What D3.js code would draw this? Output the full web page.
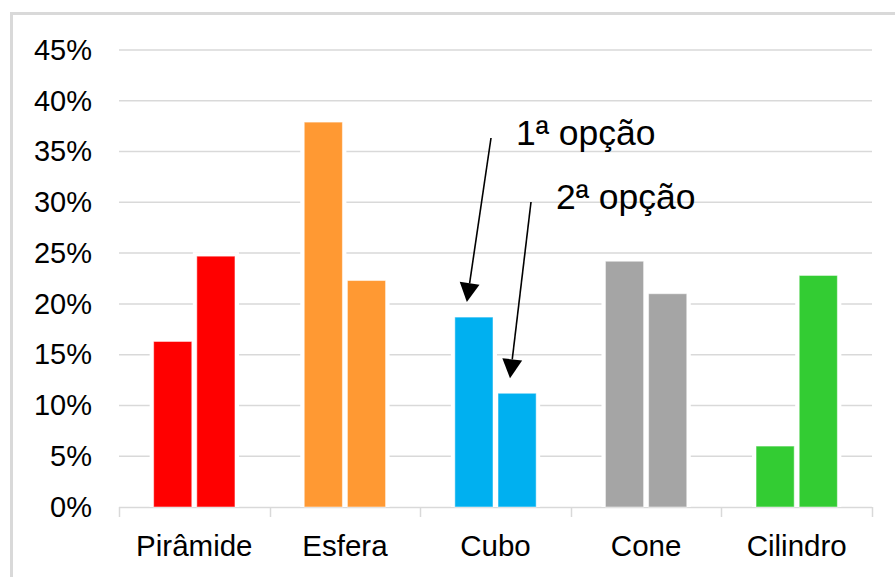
<!DOCTYPE html>
<html>
<head>
<meta charset="utf-8">
<script src="https://cdn.jsdelivr.net/npm/d3@7/dist/d3.min.js"></script>
<style>
  html, body { margin: 0; padding: 0; background: #fff; }
  svg { display: block; font-family: "Liberation Sans", Arial, sans-serif; }
</style>
</head>
<body>
<svg id="chart" width="895" height="577"></svg>
<script>
// Solids and their share of first / second choices
const categories = ["Pirâmide", "Esfera", "Cubo", "Cone", "Cilindro"];
const options = ["1ª opção", "2ª opção"];
const firstChoice = [16.3, 37.9, 18.7, 24.2, 6.0];
const secondChoice = [24.7, 22.3, 11.2, 21.0, 22.8];
const colors = ["#ff0000", "#ff9933", "#00b0f0", "#a5a5a5", "#33cc33"];
const yTicks = [0, 5, 10, 15, 20, 25, 30, 35, 40, 45];

// The two callouts point at the Cubo bars
const callouts = [
  { text: options[0], category: "Cubo", series: 0, lx: 516, ly: 145 },
  { text: options[1], category: "Cubo", series: 1, lx: 556, ly: 209 }
];

const svg = d3.select("#chart");
const W = 895, H = 577;
const plot = { left: 119, right: 872, top: 50, bottom: 507 };

const series = [firstChoice, secondChoice];
const data = categories.map((c, i) => ({
  category: c,
  color: colors[i],
  values: series.map((s, k) => ({ k, v: s[i] }))
}));

const x0 = d3.scaleBand().domain(categories).range([plot.left, plot.right]).padding(0);
const groupW = x0.bandwidth() * 0.54;
const x1 = d3.scaleBand().domain([0, 1]).range([0, groupW]).paddingInner(0.116).paddingOuter(0);
const y = d3.scaleLinear().domain([0, 45]).range([plot.bottom, plot.top]);
const groupX = c => x0(c) + (x0.bandwidth() - groupW) / 2;

// Chart frame
svg.append("path")
  .attr("d", `M11.5,${H} L11.5,13.5 L${W},13.5`)
  .attr("fill", "none")
  .attr("stroke", "#d9d9d9")
  .attr("stroke-width", 3);

// Horizontal gridlines
svg.append("g")
  .selectAll("line")
  .data(yTicks.filter(t => t > 0))
  .join("line")
  .attr("x1", plot.left).attr("x2", plot.right)
  .attr("y1", d => y(d)).attr("y2", d => y(d))
  .attr("stroke", "#d9d9d9")
  .attr("stroke-width", 1.5);

// Y axis labels
const yAxis = d3.axisLeft(y).tickValues(yTicks).tickFormat(d => d + "%").tickSize(0).tickPadding(27);
const gy = svg.append("g").attr("transform", `translate(${plot.left},0)`).call(yAxis);
gy.select(".domain").remove();
gy.selectAll("text")
  .attr("font-size", 29)
  .attr("font-family", "Liberation Sans, Arial, sans-serif")
  .attr("fill", "#000");

// X axis with boundary ticks
const xAxis = d3.axisBottom(x0).tickSize(0).tickPadding(0);
const gx = svg.append("g").attr("transform", `translate(0,${plot.bottom})`).call(xAxis);
gx.select(".domain").remove();
gx.selectAll("text")
  .attr("font-size", 29.5)
  .attr("font-family", "Liberation Sans, Arial, sans-serif")
  .attr("fill", "#000")
  .attr("dy", null)
  .attr("y", 49);

const axisG = svg.append("g").attr("stroke", "#d9d9d9").attr("stroke-width", 1.5);
axisG.append("line")
  .attr("x1", plot.left).attr("x2", plot.right)
  .attr("y1", plot.bottom + 0.5).attr("y2", plot.bottom + 0.5);
const bounds = categories.map(c => x0(c)).concat([x0(categories[categories.length - 1]) + x0.bandwidth()]);
axisG.selectAll("line.tick")
  .data(bounds)
  .join("line")
  .attr("class", "tick")
  .attr("x1", d => Math.round(d) + 0.5).attr("x2", d => Math.round(d) + 0.5)
  .attr("y1", plot.bottom).attr("y2", plot.bottom + 10);

// Bars, each with a white halo that breaks the gridlines
const groups = svg.append("g")
  .selectAll("g")
  .data(data)
  .join("g")
  .attr("transform", d => `translate(${groupX(d.category)},0)`);

groups.selectAll("rect.halo")
  .data(d => d.values)
  .join("rect")
  .attr("class", "halo")
  .attr("x", d => x1(d.k) - 4)
  .attr("y", d => y(d.v) - 4)
  .attr("width", x1.bandwidth() + 8)
  .attr("height", d => plot.bottom - y(d.v) + 4)
  .attr("fill", "#fff");

groups.selectAll("rect.bar")
  .data(d => d.values.map(v => ({ ...v, color: d.color })))
  .join("rect")
  .attr("class", "bar")
  .attr("x", d => x1(d.k))
  .attr("y", d => y(d.v))
  .attr("width", x1.bandwidth())
  .attr("height", d => plot.bottom - y(d.v))
  .attr("fill", d => d.color)
  .attr("stroke", "rgba(255,255,255,0.5)")
  .attr("stroke-width", 1);

// Callout text and arrows
const ann = svg.append("g");
callouts.forEach(c => {
  const i = categories.indexOf(c.category);
  const v = series[c.series][i];
  const tipX = groupX(c.category) + x1(c.series) + 12;
  const tipY = y(v) - 15;
  const sx = c.lx - 25, sy = c.ly - 7;

  ann.append("text")
    .attr("x", c.lx).attr("y", c.ly)
    .attr("font-size", 35.5)
    .attr("fill", "#000")
    .text(c.text);

  const dx = tipX - sx, dy = tipY - sy;
  const len = Math.hypot(dx, dy);
  const ux = dx / len, uy = dy / len;
  const headLen = 19, headHalf = 10;
  const bx = tipX - ux * headLen, by = tipY - uy * headLen;

  ann.append("line")
    .attr("x1", sx).attr("y1", sy)
    .attr("x2", bx).attr("y2", by)
    .attr("stroke", "#000")
    .attr("stroke-width", 1.6);

  ann.append("path")
    .attr("d", `M${tipX},${tipY} L${bx - uy * headHalf},${by + ux * headHalf} L${bx + uy * headHalf},${by - ux * headHalf} Z`)
    .attr("fill", "#000");
});
</script>
</body>
</html>
